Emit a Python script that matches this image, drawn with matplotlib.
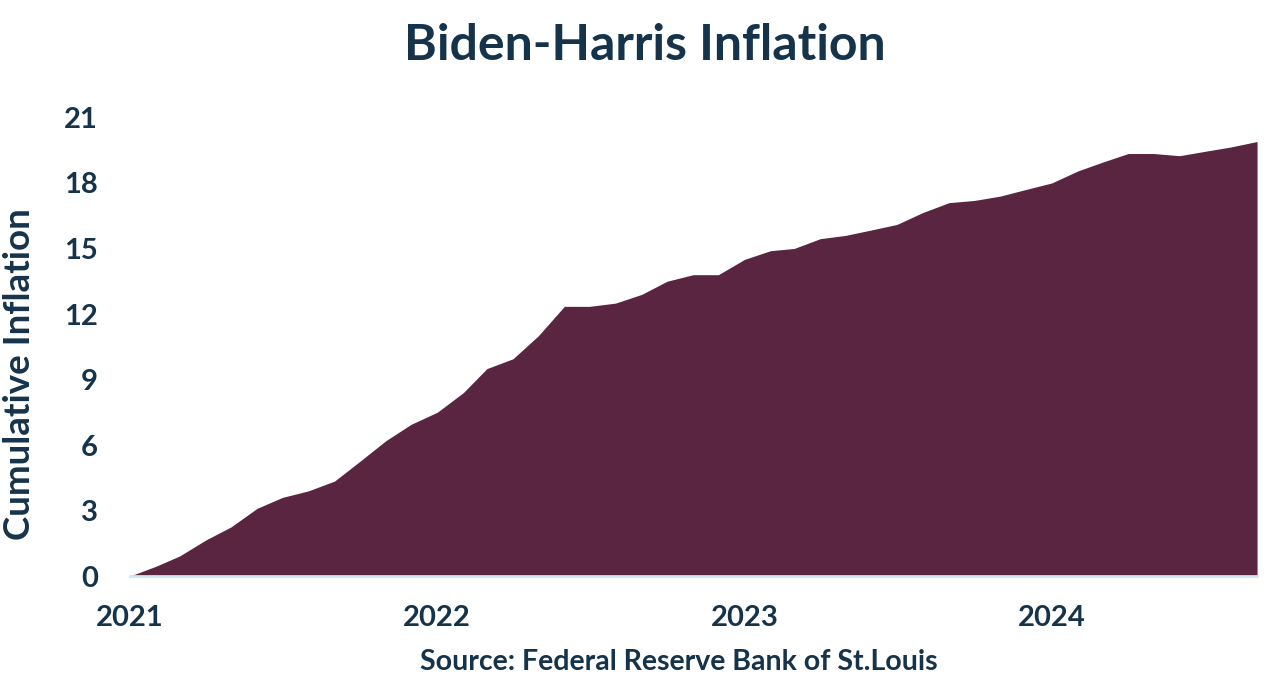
import matplotlib.pyplot as plt
import pandas as pd

months = pd.date_range("2021-01-01", periods=45, freq="MS")
cumulative = [0.0, 0.45, 0.92, 1.65, 2.25, 3.1, 3.6, 3.9, 4.35, 5.25, 6.2, 6.95,
              7.5, 8.4, 9.5, 9.95, 11.0, 12.35, 12.35, 12.5, 12.9, 13.5, 13.8, 13.8,
              14.5, 14.9, 15.0, 15.45, 15.6, 15.85, 16.1, 16.65, 17.1, 17.2, 17.4, 17.7,
              18.0, 18.55, 18.95, 19.35, 19.35, 19.25, 19.45, 19.65, 19.9]
yticks = [0, 3, 6, 9, 12, 15, 18, 21]
year_ticks = ["2021", "2022", "2023", "2024"]

navy = "#15334a"
fill = "#5a2541"

plt.rcParams["font.family"] = ["Lato", "DejaVu Sans"]

fig = plt.figure(figsize=(12.7, 6.94), dpi=100)
ax = fig.add_axes([0.1024, 0.170, 0.8874, 0.6607])

ax.fill_between(months, cumulative, 0, color=fill, linewidth=0)

ax.set_xlim(months[0], months[-1])
ax.set_ylim(0, 21)
ax.set_yticks(yticks)
ax.set_yticklabels([str(t) for t in yticks])
ax.set_xticks([pd.Timestamp(y + "-01-01") for y in year_ticks])
ax.set_xticklabels(year_ticks)

for s in ["top", "right", "left"]:
    ax.spines[s].set_visible(False)
ax.spines["bottom"].set_color("#cde6f7")
ax.spines["bottom"].set_linewidth(2)

ax.tick_params(axis="both", length=0, labelsize=21, labelcolor=navy)
ax.tick_params(axis="y", pad=23)
ax.tick_params(axis="x", pad=21)
for lbl in ax.get_xticklabels() + ax.get_yticklabels():
    lbl.set_fontweight("bold")

fig.text(0.0154, 0.461, "Cumulative Inflation", rotation=90, ha="center", va="center",
         fontsize=26.5, fontweight="bold", color=navy)
fig.text(0.5075, 0.935, "Biden-Harris Inflation", ha="center", va="center",
         fontsize=36, fontweight="bold", color=navy)
fig.text(0.5345, 0.046, "Source: Federal Reserve Bank of St.Louis", ha="center", va="center",
         fontsize=20.5, fontweight="bold", color=navy)

fig.savefig("out.png", dpi=100)
